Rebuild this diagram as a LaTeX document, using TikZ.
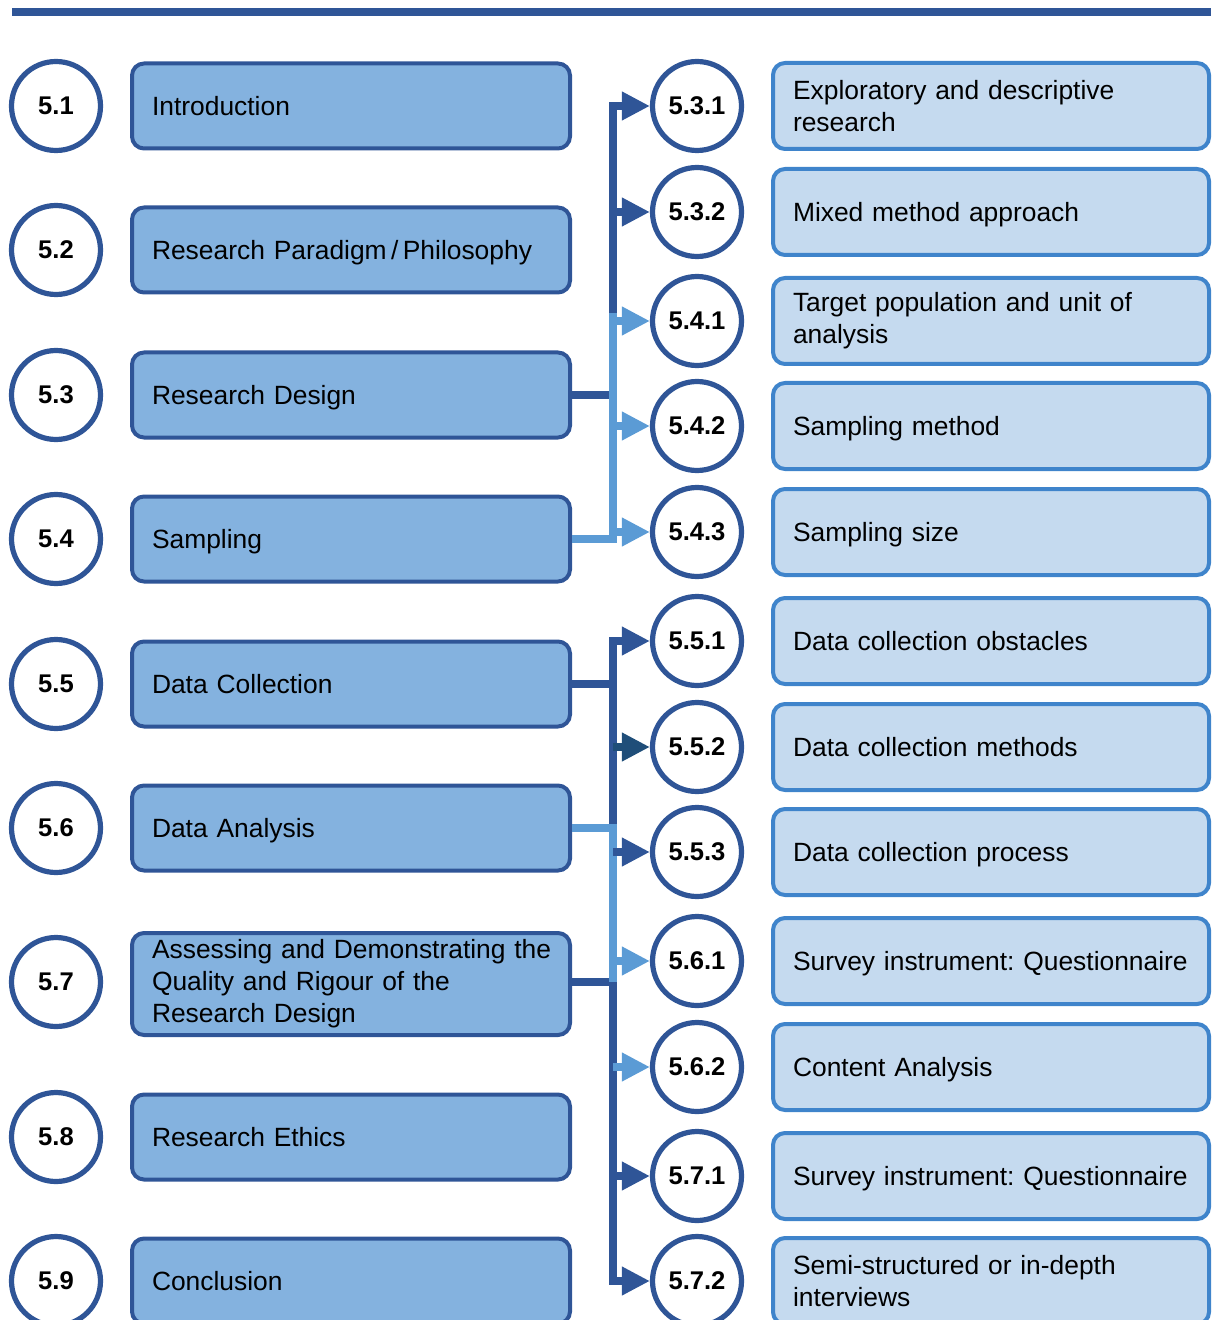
\documentclass[tikz,border=0pt]{standalone}
\usepackage{fontspec}
\setmainfont{Liberation Sans}
\usetikzlibrary{arrows.meta,calc}
\frenchspacing
\hyphenpenalty=10000

\definecolor{darkblue}{HTML}{2F5597}
\definecolor{lightblue}{HTML}{5B9BD5}
\definecolor{navyblue}{HTML}{1F4E79}
\definecolor{mainfill}{HTML}{84B2DF}
\definecolor{subfill}{HTML}{C5DAEF}
\definecolor{subedge}{HTML}{3F84CB}

\tikzset{
  numcirc/.style={circle, draw=darkblue, line width=2.6pt, fill=white,
    minimum size=44.5pt, inner sep=0pt,
    font=\fontsize{12.8}{15}\selectfont\bfseries},
  mainbox/.style={rectangle, rounded corners=6pt, draw=darkblue, line width=2pt,
    fill=mainfill, minimum width=219pt, minimum height=42.5pt,
    inner xsep=10pt, inner ysep=0pt, text width=199pt, align=left,
    font=\fontsize{13.2}{16}\selectfont},
  subbox/.style={rectangle, rounded corners=6pt, draw=subedge, line width=2pt,
    fill=subfill, minimum width=218pt, minimum height=43pt,
    inner xsep=10pt, inner ysep=0pt, text width=198pt, align=left,
    font=\fontsize{13.2}{16}\selectfont},
  oneline/.style={text depth=0pt},
  twoline/.style={},
  conn/.style={line width=4pt},
  trunkline/.style={line width=4pt, line cap=rect},
  darrow/.style={line width=4pt, -{Triangle[length=14pt,width=13.5pt]}},
}

\begin{document}
\begin{tikzpicture}[x=0.5pt,y=-0.5pt]
\useasboundingbox (0,0) rectangle (1211,1320);
\clip (0,0) rectangle (1211,1320);

% heading rule
\draw[darkblue, line width=4pt] (12,12) -- (1211,12);

% chapter sections (left column)
\foreach \n/\l/\y/\t in {51/5.1/106/{Introduction},
    52/5.2/250/{Research Paradigm\,/\,Philosophy},
    53/5.3/395/{Research Design}, 54/5.4/539/{Sampling},
    55/5.5/684/{Data Collection}, 56/5.6/828/{Data Analysis},
    58/5.8/1137/{Research Ethics}, 59/5.9/1281/{Conclusion}}{
  \node[numcirc] (c\n) at (56,\y) {\l};
  \node[mainbox, oneline] (b\n) at (351,\y) {\t};
}
\node[numcirc] (c57) at (56,982) {5.7};
\node[mainbox, minimum height=51pt] (b57) at (351,984)
  {\mbox{Assessing and Demonstrating the}\\Quality and Rigour of the\\Research Design};

% subsections (right column)
\foreach \n/\l/\y/\s/\t in {
    531/5.3.1/106/twoline/{Exploratory and descriptive\\research},
    532/5.3.2/212/oneline/{Mixed method approach},
    541/5.4.1/321/twoline/{Target population and unit of\\analysis},
    542/5.4.2/426/oneline/{Sampling method},
    543/5.4.3/532/oneline/{Sampling size},
    551/5.5.1/641/oneline/{Data collection obstacles},
    552/5.5.2/747/oneline/{Data collection methods},
    553/5.5.3/852/oneline/{Data collection process},
    561/5.6.1/961/oneline/{\mbox{Survey instrument: Questionnaire}},
    562/5.6.2/1067/oneline/{Content Analysis},
    571/5.7.1/1176/oneline/{\mbox{Survey instrument: Questionnaire}},
    572/5.7.2/1281/twoline/{Semi-structured or in-depth\\interviews}}{
  \node[numcirc] (c\n) at (697,\y) {\l};
  \node[subbox, \s] (r\n) at (991,\y) {\t};
}

% vertical distribution line
\coordinate (trunk) at (613,0);
\coordinate (topend) at (613,317);

% upper group: 5.3 and 5.4
\draw[trunkline, darkblue] (trunk |- c531) -- (topend);
\draw[conn, darkblue] (b53.east) -- (trunk |- b53);
\draw[trunkline, lightblue] (topend) -- (trunk |- b54);
\draw[conn, lightblue] (b54.east) -- (trunk |- b54);
\draw[darrow, darkblue] (trunk |- c531) -- (c531.west);
\draw[darrow, darkblue] (trunk |- c532) -- (c532.west);
\draw[darrow, lightblue] (trunk |- c541) -- (c541.west);
\draw[darrow, lightblue] (trunk |- c542) -- (c542.west);
\draw[darrow, lightblue] (trunk |- c543) -- (c543.west);

% lower group: 5.5, 5.6 and 5.7
\draw[trunkline, darkblue] (trunk |- c551) -- (trunk |- c572);
\draw[conn, darkblue] (b55.east) -- (trunk |- b55);
\draw[conn, darkblue] (b57.east |- c57) -- (trunk |- c57);
\draw[trunkline, lightblue] (trunk |- b56) -- ($(trunk |- c57)+(0,-4)$);
\draw[conn, lightblue] (b56.east) -- (trunk |- b56);
\draw[darrow, darkblue] (trunk |- c551) -- (c551.west);
\draw[darrow, navyblue] (trunk |- c552) -- (c552.west);
\draw[darrow, darkblue] (trunk |- c553) -- (c553.west);
\draw[darrow, lightblue] (trunk |- c561) -- (c561.west);
\draw[darrow, lightblue] (trunk |- c562) -- (c562.west);
\draw[darrow, darkblue] (trunk |- c571) -- (c571.west);
\draw[darrow, darkblue] (trunk |- c572) -- (c572.west);
\end{tikzpicture}
\end{document}
